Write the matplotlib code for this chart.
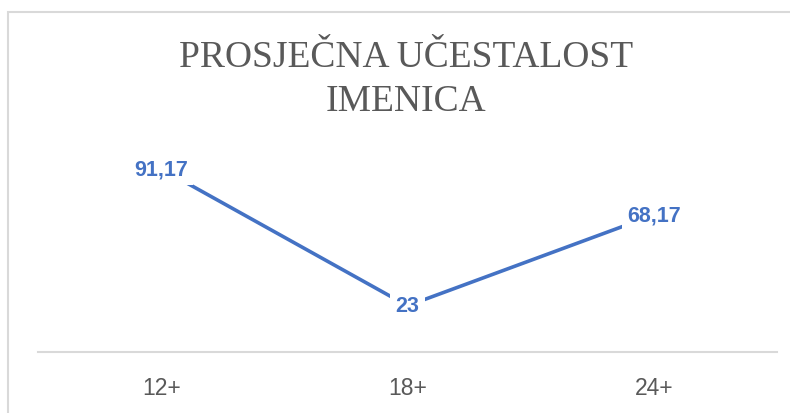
import matplotlib.pyplot as plt
from matplotlib.patches import Rectangle

# podaci
kategorije = ['12+', '18+', '24+']
vrijednosti = [91.17, 23, 68.17]
oznake = ['91,17', '23', '68,17']
naslov = 'PROSJEČNA UČESTALOST\nIMENICA'

plava = '#4472C4'
siva = '#595959'

fig = plt.figure(figsize=(7.9, 4.14), dpi=100)
W, H = 790, 414

# okvir grafikona
fig.patches.append(Rectangle((8 / W, -0.1), 1.2, 1 - 13 / H + 0.1, transform=fig.transFigure,
                             fill=False, edgecolor='#D9D9D9', linewidth=1.5))

ax = fig.add_axes([38 / W, 1 - 353 / H, (777 - 38) / W, (353 - 152) / H])
x = list(range(len(kategorije)))
ax.plot(x, vrijednosti, color=plava, linewidth=2.6, solid_capstyle='butt', zorder=2)

for xi, v, t in zip(x, vrijednosti, oznake):
    ax.text(xi, v, t, ha='center', va='center', color=plava, fontsize=15.5, fontweight='bold',
            family=['Liberation Sans', 'DejaVu Sans'], zorder=3,
            bbox=dict(boxstyle='square,pad=0.25', facecolor='white', edgecolor='none'))

ax.set_xlim(-0.5, len(kategorije) - 0.5)
ax.set_ylim(0, 100)
ax.set_xticks(x)
ax.set_xticklabels(kategorije, fontsize=16.5, color=siva,
                   family=['Liberation Sans', 'DejaVu Sans'])
ax.tick_params(axis='x', length=0, pad=17)
ax.set_yticks([])
for s in ['top', 'left', 'right']:
    ax.spines[s].set_visible(False)
ax.spines['bottom'].set_color('#D9D9D9')
ax.spines['bottom'].set_linewidth(1.5)

fig.text(406 / W, 1 - 80 / H, naslov, ha='center', va='center', fontsize=27, color=siva,
         family=['Liberation Serif', 'DejaVu Serif'], linespacing=1.35)

fig.savefig('out.png', dpi=100)
